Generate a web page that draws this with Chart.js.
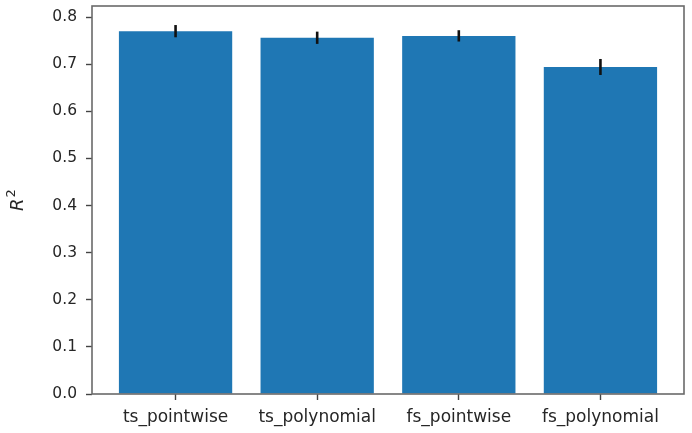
<!DOCTYPE html>
<html>
<head>
<meta charset="utf-8">
<script src="https://cdn.jsdelivr.net/npm/chart.js@4"></script>
<style>
  html, body { margin: 0; padding: 0; background: #fff; }
  #wrap { width: 692px; height: 433px; }
</style>
</head>
<body>
<div id="wrap"><canvas id="c" width="692" height="433"></canvas></div>
<script>
// Model variants and their mean R² scores with spread
const categories = ['ts_pointwise', 'ts_polynomial', 'fs_pointwise', 'fs_polynomial'];
const scores = [0.770, 0.756, 0.760, 0.694];
const errors = [0.013, 0.013, 0.012, 0.017];
const yTicks = [0.0, 0.1, 0.2, 0.3, 0.4, 0.5, 0.6, 0.7, 0.8];

const BAR_COLOR = '#1f77b4';
const TEXT_COLOR = '#262626';
const FRAME_COLOR = '#6a6a6a';

// Black vertical error bars centred on each bar top
const errorBars = {
  id: 'errorBars',
  afterDatasetsDraw(chart) {
    const { ctx, scales: { x, y } } = chart;
    ctx.save();
    ctx.strokeStyle = '#111';
    ctx.lineWidth = 2.6;
    scores.forEach((v, i) => {
      const px = x.getPixelForValue(i);
      ctx.beginPath();
      ctx.moveTo(px, y.getPixelForValue(v + errors[i]));
      ctx.lineTo(px, y.getPixelForValue(v - errors[i]));
      ctx.stroke();
    });
    ctx.restore();
  }
};

// Full rectangular frame around the plot area
const frame = {
  id: 'frame',
  afterDraw(chart) {
    const { ctx, chartArea: a } = chart;
    ctx.save();
    ctx.strokeStyle = FRAME_COLOR;
    ctx.lineWidth = 1.6;
    ctx.strokeRect(a.left, a.top, a.right - a.left, a.bottom - a.top);
    ctx.restore();
  }
};

// Rotated y-axis title: italic R with superscript 2
const yTitle = {
  id: 'yTitle',
  afterDraw(chart) {
    const { ctx, chartArea: a } = chart;
    const cy = (a.top + a.bottom) / 2;
    ctx.save();
    ctx.translate(23, cy);
    ctx.rotate(-Math.PI / 2);
    ctx.fillStyle = TEXT_COLOR;
    ctx.textBaseline = 'alphabetic';
    const fBig = 'italic 18px "DejaVu Sans"';
    const fSmall = '13px "DejaVu Sans"';
    ctx.font = fBig;
    const wR = ctx.measureText('R').width;
    ctx.font = fSmall;
    const w2 = ctx.measureText('2').width;
    const total = wR + 1 + w2;
    ctx.font = fBig;
    ctx.textAlign = 'left';
    ctx.fillText('R', -total / 2, 0);
    ctx.font = fSmall;
    ctx.fillText('2', -total / 2 + wR + 1, -8);
    ctx.restore();
  }
};

new Chart(document.getElementById('c'), {
  type: 'bar',
  data: {
    datasets: [{
      data: scores.map((v, i) => ({ x: i, y: v })),
      backgroundColor: BAR_COLOR,
      borderWidth: 0,
      barPercentage: 0.8,
      categoryPercentage: 1.0
    }]
  },
  options: {
    responsive: false,
    animation: false,
    devicePixelRatio: 1,
    layout: { padding: { top: 6, right: 8, left: 0, bottom: 0 } },
    plugins: {
      legend: { display: false },
      tooltip: { enabled: false }
    },
    scales: {
      x: {
        type: 'linear',
        offset: false,
        min: -0.59,
        max: 3.59,
        afterBuildTicks(axis) {
          axis.ticks = categories.map((_, i) => ({ value: i }));
        },
        afterFit(axis) {
          axis.height = 39;
          axis.paddingLeft = 0;
          axis.paddingRight = 0;
        },
        ticks: {
          autoSkip: false,
          maxRotation: 0,
          padding: 7,
          color: TEXT_COLOR,
          font: { family: 'DejaVu Sans', size: 17 },
          callback: (v) => categories[v]
        },
        grid: {
          offset: false,
          drawOnChartArea: false,
          drawTicks: true,
          tickLength: 6,
          tickWidth: 1.4,
          tickColor: '#444'
        },
        border: { display: false }
      },
      y: {
        min: 0,
        max: 0.8234,
        afterBuildTicks(axis) {
          axis.ticks = yTicks.map(v => ({ value: v }));
        },
        afterFit(axis) {
          axis.width = 92;
          axis.paddingTop = 0;
          axis.paddingBottom = 0;
        },
        ticks: {
          padding: 9,
          color: TEXT_COLOR,
          font: { family: 'DejaVu Sans', size: 15.5 },
          callback: (v) => Number(v).toFixed(1)
        },
        grid: {
          drawOnChartArea: false,
          drawTicks: true,
          tickLength: 6,
          tickWidth: 1.4,
          tickColor: '#444'
        },
        border: { display: false }
      }
    }
  },
  plugins: [errorBars, frame, yTitle]
});
</script>
</body>
</html>
